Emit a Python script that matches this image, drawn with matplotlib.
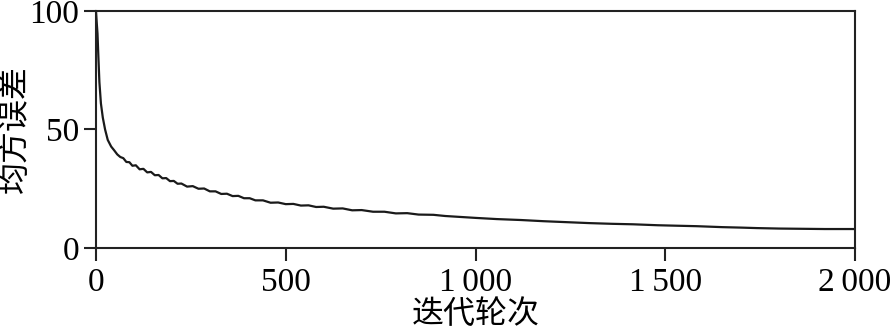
import matplotlib
matplotlib.use("Agg")
import matplotlib.pyplot as plt

# iteration -> mean squared error
iters = [0, 2, 4, 6, 9, 13, 18, 24, 31, 40, 48, 56, 64, 72, 80, 88, 96, 105,
         115, 125, 135, 145, 155, 165, 175, 185, 195, 205, 215, 225, 240, 255,
         270, 285, 300, 315, 330, 345, 360, 375, 390, 405, 420, 440, 460, 480,
         500, 520, 540, 560, 580, 600, 625, 650, 675, 700, 730, 760, 790, 820,
         850, 889, 920, 950, 1000, 1056, 1120, 1180, 1240, 1300, 1360, 1415,
         1480, 1530, 1583, 1650, 1700, 1741, 1800, 1860, 1920, 2000]
mse = [100, 95, 90.5, 82, 70, 61, 55, 50, 45.6, 42.8, 41.2, 39.5, 38.4, 37.9,
       36.3, 36.2, 34.7, 34.9, 33.2, 33.4, 31.9, 32.1, 30.7, 30.8, 29.4, 29.5,
       28.2, 28.3, 27.1, 27.2, 25.9, 26.1, 25.0, 25.1, 23.9, 23.9, 22.8, 22.9,
       21.9, 22.0, 21.0, 21.0, 20.1, 20.1, 19.1, 19.2, 18.5, 18.6, 17.9, 18.0,
       17.3, 17.4, 16.6, 16.7, 15.9, 16.0, 15.3, 15.3, 14.6, 14.7, 14.1, 14.0,
       13.5, 13.2, 12.7, 12.2, 11.8, 11.3, 10.9, 10.5, 10.2, 10.0, 9.6, 9.4,
       9.2, 8.8, 8.6, 8.4, 8.2, 8.1, 8.0, 8.0]

x_ticks = [0, 500, 1000, 1500, 2000]
x_labels = ["0", "500", "1\u2009000", "1\u2009500", "2\u2009000"]
y_ticks = [0, 50, 100]
y_labels = ["0", "50", "100"]

NUM_FONT = ["Liberation Serif", "DejaVu Serif"]
CJK_FONT = ["Noto Sans CJK SC", "DejaVu Sans"]

fig = plt.figure(figsize=(8.92, 3.30), dpi=100)
ax = fig.add_axes([0.1076, 0.2485, 0.851, 0.7182])

ax.plot(iters, mse, color="#1a1a1a", linewidth=1.6)

ax.set_xlim(0, 2000)
ax.set_ylim(0, 100)

for side in ["left", "right", "top", "bottom"]:
    ax.spines[side].set_linewidth(1.5)
    ax.spines[side].set_color("#222222")

ax.set_xticks(x_ticks)
ax.set_xticklabels(x_labels, family=NUM_FONT, fontsize=24)
ax.set_yticks(y_ticks)
ax.set_yticklabels(y_labels, family=NUM_FONT, fontsize=24)
ax.tick_params(axis="x", direction="out", length=9, width=1.5, pad=5, color="#222222")
ax.tick_params(axis="y", direction="out", length=9, width=1.5, pad=3, color="#222222")

ax.set_xlabel("迭代轮次", family=CJK_FONT, fontsize=23, labelpad=0)
ax.set_ylabel("均方误差", family=CJK_FONT, fontsize=23, labelpad=-1)

fig.savefig("out.png", dpi=100)
